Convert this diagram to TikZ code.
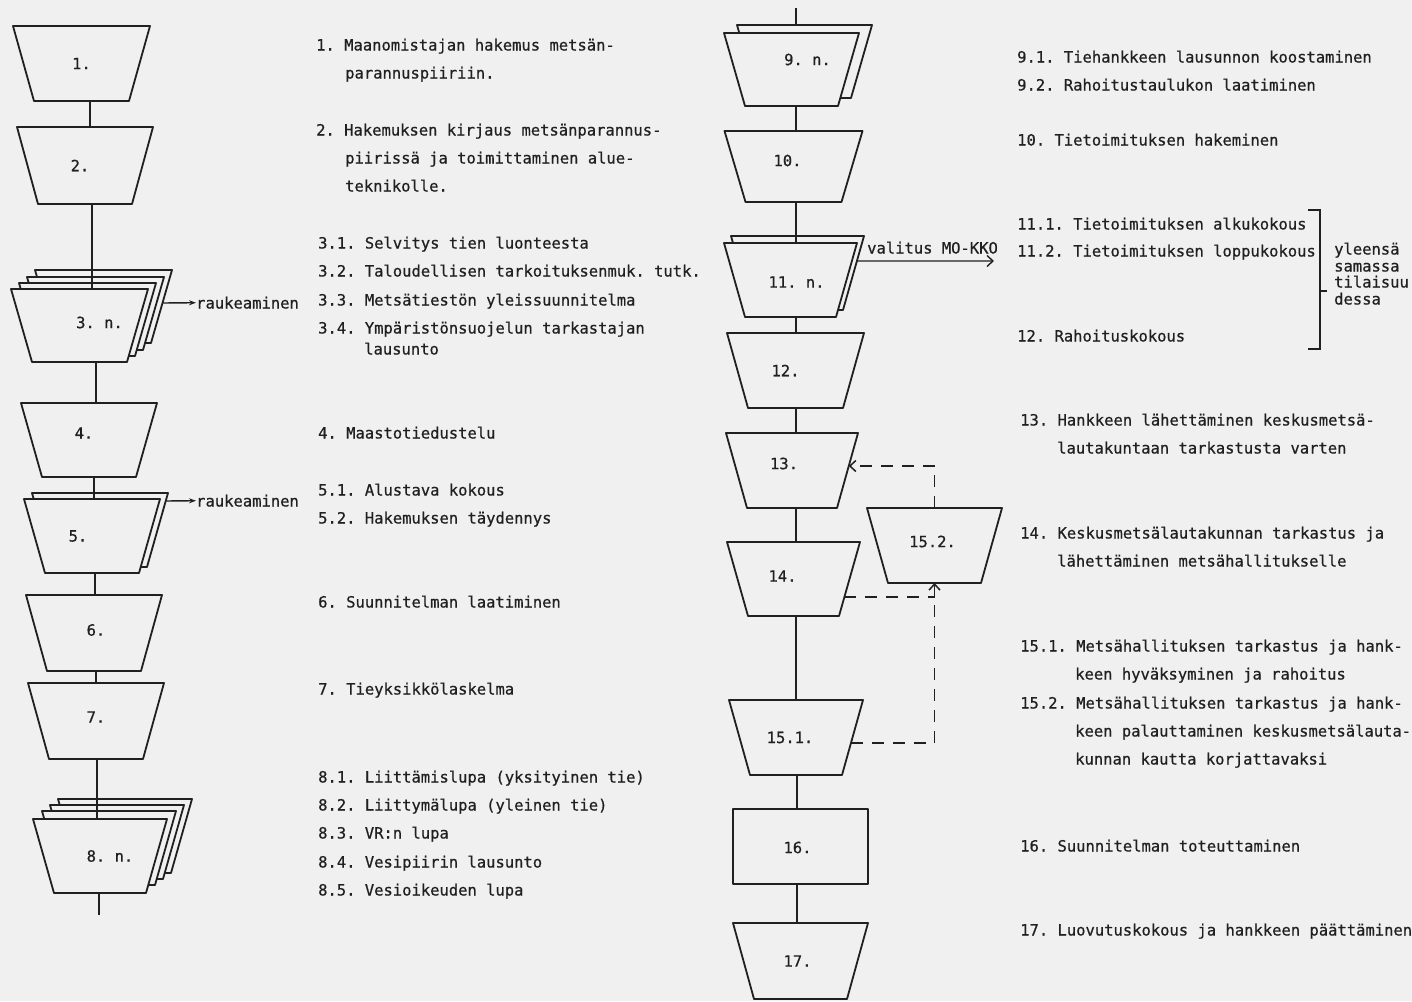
\documentclass[tikz,border=0pt]{standalone}
\usepackage{fontspec}
\newfontfamily\mono[FakeBold=0.6]{DejaVu Sans Mono}
\usetikzlibrary{calc,arrows.meta,backgrounds}
\definecolor{bg}{RGB}{240,240,240}
\definecolor{ink}{RGB}{32,32,32}
% trapezoid drawn over the bounding box of a node: [inset]{node}{dx}{dy}
\newcommand\trapz[4][21]{\filldraw[shp] ([shift={(#3,#4)}]#2.north west) -- ([shift={(#3,#4)}]#2.north east) -- ([shift={(#3-#1,#4)}]#2.south east) -- ([shift={(#3+#1,#4)}]#2.south west) -- cycle;}
\newcommand\tx[4]{\node[txt] (#1) at (#2,#3+5.5) {#4};}
\begin{document}
\begin{tikzpicture}[x=1pt,y=-1pt,
  font=\mono\fontsize{15.5}{18}\selectfont\frenchspacing,
  every node/.style={text=ink},
  bx/.style={inner sep=0pt,outer sep=0pt,draw=none},
  lbl/.style={inner sep=0pt},
  shp/.style={draw=ink,fill=bg,line width=1.8pt,line join=round},
  conn/.style={draw=ink,line width=1.8pt},
  dconn/.style={draw=ink,line width=1.5pt,dash pattern=on 12pt off 9pt},
  barb/.style={-{Straight Barb[length=6pt,width=11pt]}},
  solidtip/.style={-{Stealth[length=7pt,width=5pt]}},
  txt/.style={anchor=base west,inner sep=0pt}]
\useasboundingbox (0,0) rectangle (1412,1001);

% ---------- boxes (left column) ----------
\node[bx,minimum width=137,minimum height=75,label={[lbl]center:1.}] (n1) at (81.5,63.5) {};
\node[bx,minimum width=136,minimum height=77,label={[lbl,xshift=-5pt]center:2.}] (n2) at (85,165.5) {};
\node[bx,minimum width=137,minimum height=73,label={[lbl,xshift=20pt,yshift=3pt]center:3. n.}] (n3) at (79.5,325.5) {};
\node[bx,minimum width=136,minimum height=74,label={[lbl,xshift=-5pt,yshift=7pt]center:4.}] (n4) at (89,440) {};
\node[bx,minimum width=136,minimum height=74,label={[lbl,xshift=-14pt]center:5.}] (n5) at (92,536) {};
\node[bx,minimum width=136,minimum height=76,label={[lbl,xshift=2pt,yshift=3pt]center:6.}] (n6) at (94,633) {};
\node[bx,minimum width=136,minimum height=76,label={[lbl,yshift=4pt]center:7.}] (n7) at (96,721) {};
\node[bx,minimum width=134,minimum height=74,label={[lbl,xshift=10pt]center:8. n.}] (n8) at (100,856) {};
% ---------- boxes (right column) ----------
\node[bx,minimum width=135,minimum height=73,label={[lbl,xshift=16pt,yshift=10pt]center:9. n.}] (n9) at (791.5,69.5) {};
\node[bx,minimum width=138,minimum height=71,label={[lbl,xshift=-6pt,yshift=6pt]center:10.}] (n10) at (793.5,166.5) {};
\node[bx,minimum width=133,minimum height=74,label={[lbl,xshift=6pt,yshift=-2pt]center:11. n.}] (n11) at (790.5,280) {};
\node[bx,minimum width=137,minimum height=75,label={[lbl,xshift=-10pt]center:12.}] (n12) at (795.5,370.5) {};
\node[bx,minimum width=132,minimum height=75,label={[lbl,xshift=-8pt,yshift=7pt]center:13.}] (n13) at (792,470.5) {};
\node[bx,minimum width=133,minimum height=74,label={[lbl,xshift=-11pt,yshift=3pt]center:14.}] (n14) at (793.5,579) {};
\node[bx,minimum width=134,minimum height=75,label={[lbl,xshift=-6pt]center:15.1.}] (n151) at (796,737.5) {};
\node[bx,minimum width=135,minimum height=75,label={[lbl,xshift=-2pt,yshift=4pt]center:15.2.}] (n152) at (934.5,545.5) {};
\node[bx,minimum width=135,minimum height=75,label={[lbl,xshift=-3pt,yshift=-1pt]center:16.}] (n16) at (800.5,846.5) {};
\node[bx,minimum width=135,minimum height=76,label={[lbl,xshift=-3pt]center:17.}] (n17) at (800.5,961) {};

% ---------- shapes on background layer ----------
\begin{pgfonlayer}{background}
\fill[bg] (0,0) rectangle (1412,1001);
\trapz{n1}{0}{0}
\trapz{n2}{0}{0}
\trapz{n3}{24}{-19}\trapz{n3}{16}{-12}\trapz{n3}{8}{-6}\trapz{n3}{0}{0}
\trapz{n4}{0}{0}
\trapz{n5}{8}{-6}\trapz{n5}{0}{0}
\trapz{n6}{0}{0}
\trapz{n7}{0}{0}
\trapz{n8}{25}{-20}\trapz{n8}{17}{-14}\trapz{n8}{9}{-8}\trapz{n8}{0}{0}
\trapz{n9}{13}{-8}\trapz{n9}{0}{0}
\trapz{n10}{0}{0}
\trapz{n11}{7}{-7}\trapz{n11}{0}{0}
\trapz{n12}{0}{0}
\trapz{n13}{0}{0}
\trapz{n14}{0}{0}
\trapz{n151}{0}{0}
\trapz{n152}{0}{0}
\trapz[0]{n16}{0}{0}
\trapz{n17}{0}{0}
\end{pgfonlayer}

% ---------- connectors ----------
\coordinate (lend) at (99,915);
\coordinate (rtop) at (796,8);
\draw[conn] ([xshift=8.5]n1.south) -- ([xshift=8.5]n1.south |- n2.north);
\draw[conn] ([xshift=7]n2.south) -- ([xshift=7]n2.south |- n3.north);
\draw[conn] ([xshift=16.5]n3.south) -- ([xshift=16.5]n3.south |- n4.north);
\draw[conn] ([xshift=5]n4.south) -- ([xshift=5]n4.south |- n5.north);
\draw[conn] ([xshift=3]n5.south) -- ([xshift=3]n5.south |- n6.north);
\draw[conn] ([xshift=2]n6.south) -- ([xshift=2]n6.south |- n7.north);
\draw[conn] ([xshift=1]n7.south) -- ([xshift=1]n7.south |- n8.north);
\draw[conn] ([xshift=-1]n8.south) -- (lend);

\draw[conn] (rtop) -- ([yshift=8]rtop |- n9.north);
\draw[conn] ([xshift=4.5]n9.south) -- ([xshift=4.5]n9.south |- n10.north);
\draw[conn] ([xshift=2.5]n10.south) -- ([xshift=2.5]n10.south |- n11.north);
\draw[conn] ([xshift=5.5]n11.south) -- ([xshift=5.5]n11.south |- n12.north);
\draw[conn] ([xshift=0.5]n12.south) -- ([xshift=0.5]n12.south |- n13.north);
\draw[conn] ([xshift=4]n13.south) -- ([xshift=4]n13.south |- n14.north);
\draw[conn] ([xshift=2.5]n14.south) -- ([xshift=2.5]n14.south |- n151.north);
\draw[conn] ([xshift=1]n151.south) -- ([xshift=1]n151.south |- n16.north);
\draw[conn] ([xshift=-3.5]n16.south) -- ([xshift=-3.5]n16.south |- n17.north);

% side exits
\tx{r1}{196}{303}{raukeaminen}
\tx{r2}{196}{501}{raukeaminen}
\draw[conn,line width=1.4pt,solidtip] ($([shift={(24,-19)}]n3.north east)!0.452!([shift={(3,-19)}]n3.south east)$) -- (r1.west);
\draw[conn,line width=1.4pt,solidtip] ($([shift={(8,-6)}]n5.north east)!0.108!([shift={(-13,-6)}]n5.south east)$) -- (r2.west);
\tx{vt}{867}{248}{valitus MO-KKO}
\coordinate (vend) at (994,261);
\draw[conn,line width=1.4pt,barb] ($([shift={(7,-7)}]n11.north east)!0.338!([shift={(-14,-7)}]n11.south east)$) -- (vend);

% dashed feedback
\draw[dconn,barb] (n152.north) |- ($(n13.north east)!0.44!([xshift=-21]n13.south east)$);
\draw[dconn,barb] ($(n151.north east)!0.573!([xshift=-21]n151.south east)$) -| (n152.south);
\draw[dconn] ($(n14.north east)!0.743!([xshift=-21]n14.south east)$) coordinate (p14) -- (p14 -| n152.south);

% ---------- texts left ----------
\tx{a1}{316}{45}{1. Maanomistajan hakemus metsän-}
\tx{a1b}{345}{73}{parannuspiiriin.}
\tx{a2}{316}{130}{2. Hakemuksen kirjaus metsänparannus-}
\tx{a2b}{345}{158}{piirissä ja toimittaminen alue-}
\tx{a2c}{345}{186}{teknikolle.}
\tx{a31}{318}{243}{3.1. Selvitys tien luonteesta}
\tx{a32}{318}{271}{3.2. Taloudellisen tarkoituksenmuk. tutk.}
\tx{a33}{318}{300}{3.3. Metsätiestön yleissuunnitelma}
\tx{a34}{318}{328}{3.4. Ympäristönsuojelun tarkastajan}
\tx{a34b}{364}{349}{lausunto}
\tx{a4}{318}{433}{4. Maastotiedustelu}
\tx{a51}{318}{490}{5.1. Alustava kokous}
\tx{a52}{318}{518}{5.2. Hakemuksen täydennys}
\tx{a6}{318}{602}{6. Suunnitelman laatiminen}
\tx{a7}{318}{689}{7. Tieyksikkölaskelma}
\tx{a81}{318}{777}{8.1. Liittämislupa (yksityinen tie)}
\tx{a82}{318}{805}{8.2. Liittymälupa (yleinen tie)}
\tx{a83}{318}{833}{8.3. VR:n lupa}
\tx{a84}{318}{862}{8.4. Vesipiirin lausunto}
\tx{a85}{318}{890}{8.5. Vesioikeuden lupa}

% ---------- texts right ----------
\tx{b91}{1017}{57}{9.1. Tiehankkeen lausunnon koostaminen}
\tx{b92}{1017}{85}{9.2. Rahoitustaulukon laatiminen}
\tx{b10}{1017}{140}{10. Tietoimituksen hakeminen}
\tx{b111}{1017}{224}{11.1. Tietoimituksen alkukokous}
\tx{b112}{1017}{251}{11.2. Tietoimituksen loppukokous}
\tx{b12}{1017}{336}{12. Rahoituskokous}
\tx{b13}{1020}{420}{13. Hankkeen lähettäminen keskusmetsä-}
\tx{b13b}{1057}{448}{lautakuntaan tarkastusta varten}
\tx{b14}{1020}{533}{14. Keskusmetsälautakunnan tarkastus ja}
\tx{b14b}{1057}{561}{lähettäminen metsähallitukselle}
\tx{b151}{1020}{646}{15.1. Metsähallituksen tarkastus ja hank-}
\tx{b151b}{1075}{674}{keen hyväksyminen ja rahoitus}
\tx{b152}{1020}{703}{15.2. Metsähallituksen tarkastus ja hank-}
\tx{b152b}{1075}{731}{keen palauttaminen keskusmetsälauta-}
\tx{b152c}{1075}{759}{kunnan kautta korjattavaksi}
\tx{b16}{1020}{846}{16. Suunnitelman toteuttaminen}
\tx{b17}{1020}{930}{17. Luovutuskokous ja hankkeen päättäminen}

% bracket and its note
\draw[conn,line width=1.4pt] (1308,210) -- (1320,210) -- (1320,349) -- (1308,349);
\draw[conn,line width=1.4pt] (1320,291) -- (1327,291);
\tx{c1}{1334}{249}{yleensä}
\tx{c2}{1334}{266}{samassa}
\tx{c3}{1334}{282}{tilaisuu}
\tx{c4}{1334}{299}{dessa}
\end{tikzpicture}
\end{document}
